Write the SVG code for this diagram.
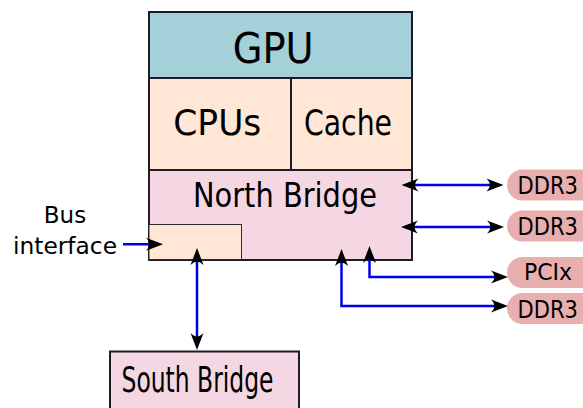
<svg xmlns="http://www.w3.org/2000/svg" width="583" height="408" viewBox="0 0 583 408">
<style>
  .box { stroke: #1d1b26; stroke-width: 2; }
  .t { font-family: "DejaVu Sans", sans-serif; fill: #000; }
  .pill { fill: #e9afaf; stroke: none; }
  .conn { fill: none; stroke: #0000e6; stroke-width: 2.5; }
</style>
<defs>
  <marker id="ah" markerUnits="userSpaceOnUse" markerWidth="20" markerHeight="16" viewBox="-18 -8 20 16" refX="-6" refY="0" orient="auto-start-reverse">
    <path d="M0,0 L-17,-6.5 C-12.5,-2 -12.5,2 -17,6.5 Z" fill="#000"/>
  </marker>
</defs>
<rect width="583" height="408" fill="#fff"/>

<g id="gpu">
  <rect class="box" x="149" y="12" width="263" height="66" fill="#a4d1d9"/>
  <text class="t" x="232.7" y="62.7" font-size="42" textLength="81" lengthAdjust="spacingAndGlyphs">GPU</text>
</g>
<g id="cpus">
  <rect class="box" x="149" y="78" width="142" height="92" fill="#ffe6d5"/>
  <text class="t" x="173.3" y="135" font-size="36" textLength="88" lengthAdjust="spacingAndGlyphs">CPUs</text>
</g>
<g id="cache">
  <rect class="box" x="291" y="78" width="121" height="92" fill="#ffe6d5"/>
  <text class="t" x="304" y="135" font-size="36" textLength="88" lengthAdjust="spacingAndGlyphs">Cache</text>
</g>
<g id="north-bridge">
  <rect class="box" x="149" y="170" width="263" height="90" fill="#f4d7e3"/>
  <text class="t" x="193" y="207" font-size="33" textLength="184" lengthAdjust="spacingAndGlyphs">North Bridge</text>
</g>
<g id="bus-interface">
  <rect x="149" y="224.5" width="92.5" height="35" fill="#ffe6d5" stroke="#2b2830" stroke-width="1"/>
  <text class="t" x="65" y="223" font-size="23" text-anchor="middle">Bus</text>
  <text class="t" x="65" y="254" font-size="23" text-anchor="middle" textLength="104" lengthAdjust="spacingAndGlyphs">interface</text>
</g>
<g id="south-bridge">
  <rect class="box" x="110" y="351.5" width="189" height="70" fill="#f4d7e3"/>
  <text class="t" x="121.5" y="391.5" font-size="36" textLength="152" lengthAdjust="spacingAndGlyphs">South Bridge</text>
</g>
<g id="ddr3-1">
  <rect class="pill" x="507" y="169.5" width="100" height="31" rx="15.5"/>
  <text class="t" x="517.5" y="194.3" font-size="24" textLength="60.5" lengthAdjust="spacingAndGlyphs">DDR3</text>
</g>
<g id="ddr3-2">
  <rect class="pill" x="507" y="210.5" width="100" height="31" rx="15.5"/>
  <text class="t" x="517.5" y="235" font-size="24" textLength="60.5" lengthAdjust="spacingAndGlyphs">DDR3</text>
</g>
<g id="pcix">
  <rect class="pill" x="507" y="257" width="100" height="31" rx="15.5"/>
  <text class="t" x="524" y="280" font-size="23" textLength="48" lengthAdjust="spacingAndGlyphs">PCIx</text>
</g>
<g id="ddr3-3">
  <rect class="pill" x="507" y="293" width="100" height="31" rx="15.5"/>
  <text class="t" x="517.5" y="317.7" font-size="24" textLength="60.5" lengthAdjust="spacingAndGlyphs">DDR3</text>
</g>

<g id="connectors">
  <path class="conn" d="M407.5,185 H497.5" marker-start="url(#ah)" marker-end="url(#ah)"/>
  <path class="conn" d="M407,227 H498" marker-start="url(#ah)" marker-end="url(#ah)"/>
  <path class="conn" d="M369.5,252 V277 H502" marker-start="url(#ah)" marker-end="url(#ah)"/>
  <path class="conn" d="M341.5,255 V306 H502" marker-start="url(#ah)" marker-end="url(#ah)"/>
  <path class="conn" d="M123,244.3 H157" marker-end="url(#ah)"/>
  <path class="conn" d="M197,254 V344" marker-start="url(#ah)" marker-end="url(#ah)"/>
</g>
</svg>
